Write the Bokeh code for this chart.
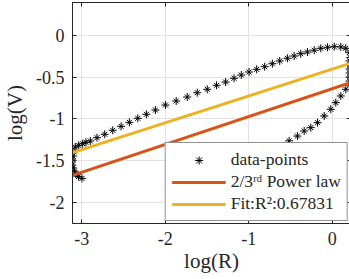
from bokeh.plotting import figure
from bokeh.models import (LinearAxis, FixedTicker, Range1d, Legend, LegendItem, ColumnDataSource,
                          CustomJSTickFormatter)
from bokeh.embed import file_html
from bokeh.resources import INLINE

# ---- data ----
log_r = [-2.998, -3.040, -3.070, -3.090, -3.106, -3.115, -3.118, -3.115, -3.106, -3.092, -3.078,
         -3.037, -2.989, -2.950, -2.898,
         -2.818, -2.725, -2.629, -2.529, -2.430, -2.329, -2.226, -2.118, -1.998, -1.869,
         -1.737, -1.617, -1.497, -1.385, -1.277, -1.176, -1.089, -0.996, -0.905, -0.809,
         -0.717, -0.629, -0.537, -0.456, -0.377, -0.297, -0.216, -0.137, -0.056, 0.024,
         0.103, 0.163, 0.204, 0.216, 0.208, 0.208, 0.208, 0.208, 0.208, 0.208, 0.208,
         0.163, 0.103, 0.043, -0.017, -0.096, -0.176, -0.257, -0.336, -0.417, -0.516,
         -0.617, -0.720, -0.820, -0.930, -1.040]
log_v = [-1.711, -1.690, -1.659, -1.625, -1.587, -1.552, -1.516, -1.480, -1.444, -1.395, -1.336,
         -1.316, -1.297, -1.280, -1.264,
         -1.225, -1.184, -1.136, -1.089, -1.041, -0.993, -0.945, -0.894, -0.834, -0.786,
         -0.738, -0.687, -0.646, -0.598, -0.559, -0.514, -0.475, -0.439, -0.407, -0.376,
         -0.340, -0.307, -0.275, -0.248, -0.220, -0.200, -0.179, -0.156, -0.144, -0.136,
         -0.140, -0.156, -0.208, -0.268, -0.307, -0.356, -0.403, -0.451, -0.499, -0.547, -0.595,
         -0.646, -0.726, -0.806, -0.885, -0.965, -1.045, -1.105, -1.145, -1.205, -1.263,
         -1.324, -1.380, -1.440, -1.500, -1.570]

line_x = [-3.111, 0.219]
power_law_y = [-1.675, -0.567]
fit_y = [-1.404, -0.335]

x_ticks = [-3, -2, -1, 0]
x_tick_labels = ["-3", "-2", "-1", "0"]
y_ticks = [-2, -1.5, -1, -0.5, 0]
y_tick_labels = ["-2", "-1.5", "-1", "-0.5", "0"]

labels = ["data-points", "2/3\u02b3\u1d48 Power law", "Fit:R\u00b2:0.67831"]
red = "#D95319"
yellow = "#EDB120"
dark = "#262626"
font = "Liberation Serif"

JS = """
for (let i = 0; i < tvals.length; i++) {
  if (Math.abs(tvals[i] - tick) < 1e-9) return tlabs[i];
}
return "";
"""

p = figure(frame_width=278, frame_height=221, output_backend="svg", toolbar_location=None,
           x_range=Range1d(-3.111, 0.219), y_range=Range1d(-2.251, 0.392),
           min_border_left=65, min_border_right=6, min_border_top=2, min_border_bottom=56)
p.background_fill_color = "white"
p.border_fill_color = "white"
p.outline_line_color = dark
p.outline_line_width = 1

for ax, ticks, labs in ((p.xaxis[0], x_ticks, x_tick_labels), (p.yaxis[0], y_ticks, y_tick_labels)):
    ax.ticker = FixedTicker(ticks=ticks)
    ax.formatter = CustomJSTickFormatter(args=dict(tvals=ticks, tlabs=labs), code=JS)
    ax.major_tick_in = 4
    ax.major_tick_out = 0
    ax.minor_tick_line_color = None
    ax.axis_line_color = dark
    ax.major_tick_line_color = dark
    ax.major_label_text_color = dark
    ax.axis_label_text_font = font
    ax.axis_label_text_font_size = "21px"
    ax.axis_label_text_font_style = "normal"
    ax.axis_label_text_color = dark

p.xaxis.major_label_text_font = font
p.yaxis.major_label_text_font = font
p.xaxis.major_label_text_font_size = "18px"
p.yaxis.major_label_text_font_size = "18px"
p.xaxis.major_label_text_font_style = "normal"
p.yaxis.major_label_text_font_style = "normal"
p.xaxis.axis_label = "log(R)"
p.yaxis.axis_label = "log(V)"
p.xaxis.major_label_standoff = 8
p.yaxis.major_label_standoff = 8
p.xaxis.axis_label_standoff = 1
p.yaxis.axis_label_standoff = 6

for loc, ticks in (("above", x_ticks), ("right", y_ticks)):
    ax = LinearAxis(ticker=FixedTicker(ticks=ticks))
    ax.major_label_text_font_size = "0px"
    ax.major_label_text_alpha = 0
    ax.major_label_standoff = 0
    ax.major_tick_in = 4
    ax.major_tick_out = 0
    ax.minor_tick_line_color = None
    ax.axis_line_color = dark
    ax.major_tick_line_color = dark
    ax.formatter = CustomJSTickFormatter(code="return '';")
    p.add_layout(ax, loc)

p.xgrid.ticker = FixedTicker(ticks=x_ticks)
p.ygrid.ticker = FixedTicker(ticks=y_ticks)
p.grid.grid_line_color = "#e3e3e3"
p.grid.grid_line_width = 1

src = ColumnDataSource(dict(x=log_r, y=log_v))
r1 = p.scatter("x", "y", source=src, marker="cross", size=8, line_color="black", line_width=1)
r2 = p.scatter("x", "y", source=src, marker="x", size=7, line_color="black", line_width=1)
r3 = p.line(line_x, power_law_y, line_color=red, line_width=3)
r4 = p.line(line_x, fit_y, line_color=yellow, line_width=3)

legend = Legend(items=[LegendItem(label=labels[0], renderers=[r1, r2]),
                       LegendItem(label=labels[1], renderers=[r3]),
                       LegendItem(label=labels[2], renderers=[r4])],
                location="bottom_right")
legend.margin = 2
legend.padding = 6
legend.spacing = 1
legend.label_height = 20
legend.glyph_height = 20
legend.glyph_width = 54
legend.label_standoff = 5
legend.label_text_font = font
legend.label_text_font_size = "17.5px"
legend.label_text_color = dark
legend.border_line_color = dark
legend.border_line_width = 1
legend.background_fill_color = "white"
legend.background_fill_alpha = 1
p.add_layout(legend)

open("out.html", "w").write(file_html(p, INLINE))
